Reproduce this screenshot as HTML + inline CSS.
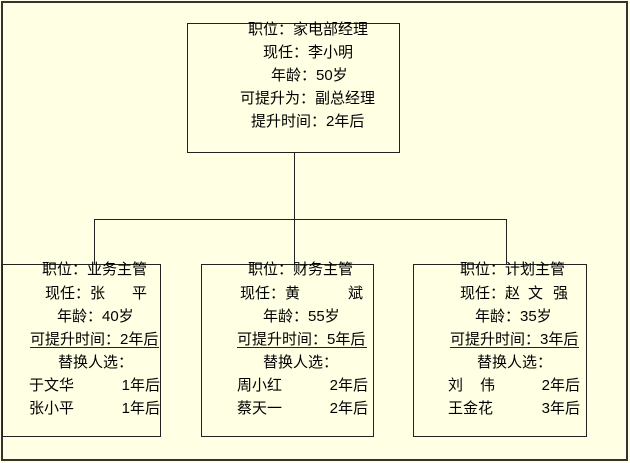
<!DOCTYPE html>
<html>
<head>
<meta charset="utf-8">
<style>
  html, body { margin:0; padding:0; background:#FFFFE4; }
  body { width:630px; height:463px; overflow:hidden; }
  svg { display:block; }
  text { font-family: "Liberation Sans", "Noto Sans CJK SC", sans-serif; font-size:15px; fill:#000; }
</style>
</head>
<body>
<svg width="630" height="463" viewBox="0 0 630 463" xmlns="http://www.w3.org/2000/svg">
  <rect x="0" y="0" width="630" height="463" fill="#FFFFE4"/>
  <!-- outer border -->
  <rect x="2" y="2" width="625" height="458" fill="none" stroke="#333333" stroke-width="2"/>

  <!-- boxes -->
  <g fill="none" stroke="#222222" stroke-width="1">
    <rect x="187.5" y="23.5" width="212" height="129"/>
    <rect x="2.5" y="264.5" width="158" height="172"/>
    <rect x="201.5" y="264.5" width="172" height="172"/>
    <rect x="413.5" y="264.5" width="173" height="172"/>
    <!-- connectors -->
    <line x1="294.5" y1="153" x2="294.5" y2="265"/>
    <line x1="94" y1="219.5" x2="507" y2="219.5"/>
    <line x1="94.5" y1="219" x2="94.5" y2="265"/>
    <line x1="506.5" y1="219" x2="506.5" y2="265"/>
    <!-- underlines -->
    <line x1="30" y1="347.5" x2="159" y2="347.5"/>
    <line x1="237" y1="347.5" x2="367" y2="347.5"/>
    <line x1="450" y1="347.5" x2="579" y2="347.5"/>
  </g>

  <!-- top box text -->
  <text x="248" y="34">职位：家电部经理</text>
  <text x="263" y="57">现任：李小明</text>
  <text x="271" y="80">年龄：50岁</text>
  <text x="240" y="103">可提升为：副总经理</text>
  <text x="251" y="126">提升时间：2年后</text>

  <!-- left box -->
  <text x="42" y="274">职位：业务主管</text>
  <text x="45" y="298">现任：张</text>
  <text x="132" y="298">平</text>
  <text x="57" y="321">年龄：40岁</text>
  <text x="30" y="344">可提升时间：2年后</text>
  <text x="58" y="367">替换人选：</text>
  <text x="29" y="390">于文华</text>
  <text x="160" y="390" text-anchor="end">1年后</text>
  <text x="29" y="413">张小平</text>
  <text x="160" y="413" text-anchor="end">1年后</text>

  <!-- middle box -->
  <text x="248" y="274">职位：财务主管</text>
  <text x="240" y="298">现任：黄</text>
  <text x="348" y="298">斌</text>
  <text x="263" y="321">年龄：55岁</text>
  <text x="237" y="344">可提升时间：5年后</text>
  <text x="263" y="367">替换人选：</text>
  <text x="237" y="390">周小红</text>
  <text x="368" y="390" text-anchor="end">2年后</text>
  <text x="237" y="413">蔡天一</text>
  <text x="368" y="413" text-anchor="end">2年后</text>

  <!-- right box -->
  <text x="460" y="274">职位：计划主管</text>
  <text x="460" y="298">现任：</text>
  <text x="505" y="298">赵</text>
  <text x="528" y="298">文</text>
  <text x="553" y="298">强</text>
  <text x="475" y="321">年龄：35岁</text>
  <text x="450" y="344">可提升时间：3年后</text>
  <text x="477" y="367">替换人选：</text>
  <text x="448" y="390">刘</text>
  <text x="480" y="390">伟</text>
  <text x="580" y="390" text-anchor="end">2年后</text>
  <text x="448" y="413">王金花</text>
  <text x="580" y="413" text-anchor="end">3年后</text>
</svg>
</body>
</html>
